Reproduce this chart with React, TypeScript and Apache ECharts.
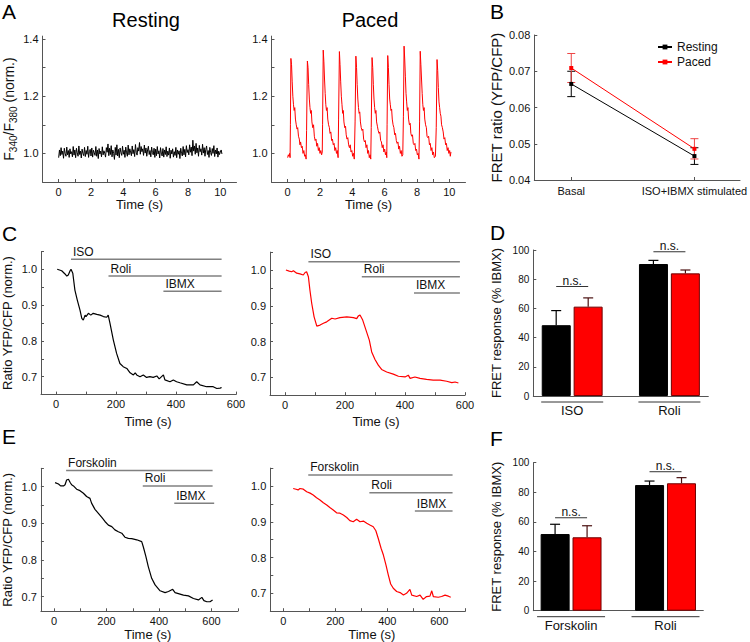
import React, { useEffect, useRef } from 'react';
import * as echarts from 'echarts';

const FONT = '"Liberation Sans", Arial, Helvetica, sans-serif';
const AXIS_COLOR = '#555';
const TEXT_COLOR = '#111';
const RED = '#ff0000';

// ---------- Panel A ----------
const restingStep = 0.05;
const restingValues = [
  0.985, 1.012, 0.992, 1.02, 0.996, 1.008, 0.983, 1.018, 1.0, 0.99, 1.022, 0.995, 1.01, 0.986, 1.016, 0.998, 1.006, 0.988, 1.024, 0.994,
  1.012, 0.985, 1.018, 1.002, 0.99, 1.026, 0.996, 1.008, 0.984, 1.015, 1.0, 0.992, 1.021, 0.989, 1.01, 0.997, 1.025, 0.986, 1.006, 1.014,
  0.991, 1.019, 0.987, 1.011, 1.003, 0.993, 1.024, 0.99, 1.012, 0.982, 1.017, 0.998, 1.008, 0.988, 1.023, 0.995, 1.009, 1.001, 0.987, 1.02,
  1.004, 1.033, 0.992, 1.018, 0.996, 1.027, 0.988, 1.012, 1.0, 0.979, 1.021, 0.994, 1.03, 0.991, 1.014, 0.985, 1.019, 1.003, 0.993, 1.025,
  0.997, 1.011, 0.986, 1.022, 1.002, 0.99, 1.029, 0.995, 1.016, 1.005, 0.992, 1.026, 0.999, 1.013, 0.989, 1.031, 1.004, 0.994, 1.02, 1.008,
  1.038, 0.997, 1.024, 1.006, 1.016, 0.993, 1.029, 1.001, 1.019, 0.99, 1.012, 1.025, 0.996, 1.01, 0.988, 1.022, 1.003, 0.995, 1.018, 0.986,
  1.015, 0.992, 1.024, 0.998, 1.009, 0.984, 1.02, 1.001, 0.991, 1.017, 0.987, 1.012, 0.996, 1.023, 0.989, 1.008, 0.994, 1.019, 0.983, 1.011,
  0.998, 1.016, 0.987, 1.006, 0.993, 1.021, 0.985, 1.012, 0.997, 1.009, 0.982, 1.018, 1.0, 0.991, 1.024, 0.995, 1.014, 0.988, 1.027, 1.003,
  1.013, 0.995, 1.03, 1.004, 1.022, 0.992, 1.046, 1.008, 1.026, 0.997, 1.035, 1.002, 1.019, 0.99, 1.028, 1.006, 1.016, 0.994, 1.032, 1.001,
  1.02, 0.99, 1.014, 1.026, 0.996, 1.01, 0.986, 1.021, 1.003, 0.993, 1.017, 1.0, 1.027, 0.989, 1.012, 0.998, 1.019, 0.987, 1.008, 0.996,
  1.004, 1.012, 0.998,
];
const pacedPoints: [number, number][] = [
  [0.0, 0.985], [0.04, 0.995], [0.08, 0.99], [0.12, 1.0], [0.15, 0.985], [0.17, 1.1], [0.2, 1.332], [0.24, 1.31], [0.28, 1.25], [0.32, 1.2], [0.36, 1.17], [0.4, 1.15], [0.44, 1.16], [0.48, 1.12], [0.53, 1.1], [0.58, 1.085], [0.62, 1.09], [0.67, 1.06], [0.72, 1.05], [0.76, 1.03], [0.8, 1.04], [0.85, 1.02], [0.9, 1.025], [0.95, 1.0], [1.0, 1.01], [1.05, 0.99], [1.1, 0.995], [1.14, 0.98],
  [1.17, 1.08], [1.22, 1.323], [1.26, 1.3], [1.3, 1.24], [1.34, 1.19], [1.38, 1.16], [1.42, 1.14], [1.46, 1.15], [1.5, 1.11], [1.55, 1.09], [1.6, 1.1], [1.65, 1.06], [1.7, 1.045], [1.75, 1.05], [1.8, 1.025], [1.85, 1.035], [1.9, 1.01], [1.95, 1.02], [2.0, 1.0], [2.05, 1.01], [2.1, 0.995], [2.14, 1.005],
  [2.16, 1.1], [2.2, 1.361], [2.24, 1.32], [2.28, 1.26], [2.32, 1.21], [2.36, 1.17], [2.4, 1.15], [2.44, 1.16], [2.48, 1.12], [2.53, 1.1], [2.58, 1.09], [2.62, 1.07], [2.67, 1.075], [2.72, 1.045], [2.77, 1.05], [2.82, 1.03], [2.87, 1.035], [2.92, 1.01], [2.97, 1.02], [3.02, 1.0], [3.07, 1.01], [3.12, 0.985],
  [3.15, 1.12], [3.2, 1.356], [3.24, 1.31], [3.28, 1.25], [3.32, 1.2], [3.36, 1.17], [3.4, 1.14], [3.44, 1.15], [3.48, 1.11], [3.53, 1.09], [3.58, 1.095], [3.62, 1.065], [3.67, 1.05], [3.72, 1.055], [3.77, 1.03], [3.82, 1.02], [3.87, 1.03], [3.92, 1.005], [3.97, 1.01], [4.02, 0.99], [4.07, 1.0], [4.12, 0.98],
  [4.17, 1.11], [4.22, 1.34], [4.26, 1.3], [4.3, 1.24], [4.34, 1.19], [4.38, 1.16], [4.42, 1.14], [4.46, 1.145], [4.5, 1.11], [4.55, 1.09], [4.6, 1.08], [4.65, 1.085], [4.7, 1.05], [4.75, 1.04], [4.8, 1.045], [4.85, 1.02], [4.9, 1.03], [4.95, 1.0], [5.0, 1.01], [5.05, 0.985], [5.1, 0.995], [5.14, 0.98],
  [5.17, 1.09], [5.22, 1.335], [5.26, 1.3], [5.3, 1.24], [5.34, 1.19], [5.38, 1.16], [5.42, 1.14], [5.46, 1.15], [5.5, 1.11], [5.55, 1.095], [5.6, 1.08], [5.65, 1.07], [5.7, 1.075], [5.75, 1.045], [5.8, 1.04], [5.85, 1.02], [5.9, 1.03], [5.95, 1.005], [6.0, 1.015], [6.05, 0.995], [6.1, 1.005], [6.13, 0.985],
  [6.15, 1.1], [6.19, 1.342], [6.23, 1.3], [6.27, 1.24], [6.31, 1.19], [6.35, 1.17], [6.39, 1.15], [6.43, 1.155], [6.47, 1.12], [6.52, 1.1], [6.57, 1.09], [6.62, 1.065], [6.67, 1.07], [6.72, 1.045], [6.77, 1.035], [6.82, 1.04], [6.87, 1.015], [6.92, 1.025], [6.97, 1.0], [7.02, 1.01], [7.07, 0.99], [7.12, 0.995],
  [7.16, 1.13], [7.2, 1.375], [7.24, 1.33], [7.28, 1.27], [7.32, 1.21], [7.36, 1.18], [7.4, 1.15], [7.44, 1.16], [7.48, 1.12], [7.53, 1.1], [7.58, 1.105], [7.62, 1.07], [7.67, 1.06], [7.72, 1.065], [7.77, 1.035], [7.82, 1.03], [7.87, 1.035], [7.92, 1.01], [7.97, 1.015], [8.02, 0.995], [8.07, 1.0], [8.12, 0.98],
  [8.16, 1.11], [8.2, 1.357], [8.24, 1.31], [8.28, 1.26], [8.32, 1.21], [8.36, 1.17], [8.4, 1.15], [8.44, 1.16], [8.48, 1.12], [8.53, 1.1], [8.58, 1.09], [8.62, 1.06], [8.67, 1.055], [8.72, 1.06], [8.77, 1.03], [8.82, 1.035], [8.87, 1.01], [8.92, 1.02], [8.97, 0.995], [9.02, 1.005], [9.07, 0.985], [9.14, 0.99],
  [9.19, 1.09], [9.24, 1.328], [9.28, 1.29], [9.32, 1.23], [9.36, 1.18], [9.4, 1.16], [9.44, 1.14], [9.48, 1.13], [9.52, 1.1], [9.57, 1.09], [9.62, 1.075], [9.67, 1.05], [9.72, 1.055], [9.77, 1.03], [9.82, 1.035], [9.87, 1.01], [9.92, 1.02], [9.97, 1.0], [10.02, 1.01], [10.06, 0.99], [10.1, 1.005],
];
const aTimeTicks = [0, 1, 2, 3, 4, 5, 6, 7, 8, 9, 10];
const aTimeLabels = [0, 2, 4, 6, 8, 10];
const aRatioTicks = [1.0, 1.1, 1.2, 1.3, 1.4];
const aRatioLabels = [1.0, 1.2, 1.4];

// ---------- Panel B ----------
const bCategories = ['Basal', 'ISO+IBMX stimulated'];
const bResting = [0.0665, 0.0466];
const bRestingErr = [0.0035, 0.0023];
const bPaced = [0.0709, 0.0486];
const bPacedErr = [0.004, 0.0028];
const bTicks = [0.04, 0.05, 0.06, 0.07, 0.08];

// ---------- Panel C ----------
const cRestTrace: [number, number][] = [
  [4, 1.0], [19, 0.996], [30, 0.987], [36, 0.981], [41, 0.984], [47, 0.996], [50, 1.0], [56, 0.989], [63, 0.942], [71, 0.914], [80, 0.886], [86, 0.863], [91, 0.858], [97, 0.872], [100, 0.868], [108, 0.877], [116, 0.872], [124, 0.877], [136, 0.874], [147, 0.872], [158, 0.868], [169, 0.866], [174, 0.872], [180, 0.849], [191, 0.803], [202, 0.765], [213, 0.737], [224, 0.728], [236, 0.723], [247, 0.711], [258, 0.705], [264, 0.711], [269, 0.705], [280, 0.7], [291, 0.705], [302, 0.698], [313, 0.7], [324, 0.698], [336, 0.702], [344, 0.694], [358, 0.705], [363, 0.691], [380, 0.686], [391, 0.691], [402, 0.686], [413, 0.683], [436, 0.677], [458, 0.677], [469, 0.686], [480, 0.677], [502, 0.672], [524, 0.672], [536, 0.667], [547, 0.668], [552, 0.67],
];
const cPacedTrace: [number, number][] = [
  [3, 1.0], [14, 0.997], [22, 0.995], [28, 0.998], [39, 0.991], [50, 0.989], [61, 0.986], [67, 0.993], [72, 0.995], [78, 0.981], [83, 0.944], [89, 0.907], [97, 0.869], [106, 0.843], [117, 0.846], [128, 0.851], [139, 0.855], [156, 0.865], [167, 0.863], [183, 0.867], [206, 0.869], [228, 0.867], [239, 0.864], [244, 0.871], [250, 0.874], [259, 0.86], [270, 0.832], [281, 0.804], [289, 0.771], [300, 0.75], [311, 0.734], [322, 0.722], [339, 0.715], [361, 0.709], [378, 0.703], [400, 0.701], [411, 0.706], [417, 0.697], [433, 0.701], [450, 0.697], [472, 0.694], [494, 0.692], [517, 0.692], [539, 0.689], [556, 0.685], [567, 0.687], [578, 0.684],
];
const cTreatments = ['ISO', 'Roli', 'IBMX'];
const cRestStart = [50, 175, 358];
const cRestEnd = [552, 552, 552];
const cRestLevel = [1.028, 0.981, 0.939];
const cPacedStart = [78, 256, 430];
const cPacedEnd = [583, 583, 583];
const cPacedLevel = [1.023, 0.981, 0.936];
const cTimeTicks = [0, 100, 200, 300, 400, 500, 600];
const cTimeLabels = [0, 200, 400, 600];
const ratioTicks = [0.7, 0.75, 0.8, 0.85, 0.9, 0.95, 1.0, 1.05];
const ratioLabels = [0.7, 0.8, 0.9, 1.0];

// ---------- Panel D ----------
const dCategories = ['ISO', 'Roli'];
const dResting = [48.5, 90.4];
const dRestingErr = [10, 2.5];
const dPaced = [61.2, 84];
const dPacedErr = [6, 2.3];
const dNs = [75, 98.8];
const pctTicks = [0, 20, 40, 60, 80, 100];

// ---------- Panel E ----------
const eRestTrace: [number, number][] = [
  [4, 1.011], [17, 1.007], [25, 1.002], [36, 1.002], [42, 1.005], [48, 1.018], [55, 1.02], [61, 1.012], [67, 1.005], [74, 1.002], [86, 0.993], [99, 0.989], [112, 0.982], [124, 0.973], [137, 0.968], [143, 0.955], [156, 0.938], [169, 0.927], [182, 0.916], [194, 0.905], [207, 0.895], [220, 0.891], [232, 0.882], [245, 0.877], [258, 0.873], [270, 0.862], [283, 0.859], [296, 0.858], [315, 0.855], [334, 0.85], [340, 0.836], [350, 0.809], [359, 0.782], [372, 0.75], [385, 0.732], [404, 0.716], [423, 0.711], [436, 0.714], [452, 0.72], [461, 0.711], [480, 0.707], [493, 0.704], [512, 0.702], [531, 0.695], [550, 0.691], [563, 0.698], [571, 0.689], [582, 0.686], [594, 0.686], [604, 0.691],
];
const ePacedTrace: [number, number][] = [
  [38, 0.993], [49, 0.991], [57, 0.989], [64, 0.993], [77, 0.991], [90, 0.984], [103, 0.98], [115, 0.975], [128, 0.967], [141, 0.961], [154, 0.953], [167, 0.947], [179, 0.94], [192, 0.933], [205, 0.925], [218, 0.924], [231, 0.919], [244, 0.912], [256, 0.903], [269, 0.9], [282, 0.907], [295, 0.9], [308, 0.902], [321, 0.896], [333, 0.891], [346, 0.886], [356, 0.875], [365, 0.854], [376, 0.826], [385, 0.807], [395, 0.779], [404, 0.751], [413, 0.726], [423, 0.714], [436, 0.705], [449, 0.702], [462, 0.695], [474, 0.7], [487, 0.711], [494, 0.695], [513, 0.691], [526, 0.695], [538, 0.683], [551, 0.691], [564, 0.692], [571, 0.707], [577, 0.691], [596, 0.689], [609, 0.691], [622, 0.695], [635, 0.692], [644, 0.689],
];
const eTreatments = ['Forskolin', 'Roli', 'IBMX'];
const eRestStart = [46, 338, 458];
const eRestEnd = [604, 604, 610];
const eRestLevel = [1.044, 1.002, 0.955];
const ePacedStart = [96, 331, 506];
const ePacedEnd = [651, 651, 651];
const ePacedLevel = [1.031, 0.981, 0.93];
const eTimeTicks = [0, 100, 200, 300, 400, 500, 600, 700];
const eTimeLabels = [0, 200, 400, 600];

// ---------- Panel F ----------
const fCategories = ['Forskolin', 'Roli'];
const fResting = [51.8, 84.9];
const fRestingErr = [6.6, 2.7];
const fPaced = [49.6, 86.1];
const fPacedErr = [7.8, 3.8];
const fNs = [62.8, 93.9];

// ---------- helpers ----------
function valueAxis(gridIndex: number, min: number, max: number, ticks: number[] | null, labels: number[], fmt: (v: number) => string, extra: any = {}) {
  const { labelSize = 11, tickInside = true, labelMargin = 4, ...rest } = extra;
  return {
    type: 'value',
    gridIndex,
    min,
    max,
    axisLine: { show: true, onZero: false, lineStyle: { color: AXIS_COLOR, width: 1 } },
    axisTick: ticks
      ? { show: true, inside: tickInside, length: 3, customValues: ticks, lineStyle: { color: AXIS_COLOR, width: 1 } }
      : { show: false },
    axisLabel: { show: true, customValues: labels, formatter: fmt, fontSize: labelSize, color: TEXT_COLOR, fontFamily: FONT, margin: labelMargin },
    splitLine: { show: false },
    minorTick: { show: false },
    ...rest,
  };
}

function xName(gap: number, padLeft: number) {
  return {
    name: 'Time (s)',
    nameLocation: 'middle',
    nameGap: gap,
    nameTextStyle: { fontSize: 13, color: TEXT_COLOR, fontFamily: FONT, padding: [0, 0, 0, padLeft] },
  };
}

function yName(name: string, gap: number, size = 13) {
  return {
    name,
    nameLocation: 'middle',
    nameGap: gap,
    nameTextStyle: { fontSize: size, color: TEXT_COLOR, fontFamily: FONT },
  };
}

function trace(gi: number, data: [number, number][], color: string, width = 1.2) {
  return {
    type: 'line',
    xAxisIndex: gi,
    yAxisIndex: gi,
    data,
    showSymbol: false,
    symbol: 'none',
    silent: true,
    lineStyle: { color, width },
    itemStyle: { color },
    z: 4,
  };
}

function treatments(gi: number, names: string[], starts: number[], ends: number[], levels: number[]) {
  return {
    type: 'custom',
    xAxisIndex: gi,
    yAxisIndex: gi,
    silent: true,
    z: 5,
    encode: { x: [0, 1], y: 2 },
    data: names.map((_, i) => [starts[i], ends[i], levels[i]]),
    renderItem: (params: any, api: any) => {
      const a = api.coord([api.value(0), api.value(2)]);
      const b = api.coord([api.value(1), api.value(2)]);
      return {
        type: 'group',
        children: [
          { type: 'line', shape: { x1: a[0], y1: a[1], x2: b[0], y2: b[1] }, style: { stroke: '#808080', lineWidth: 1.5 } },
          {
            type: 'text',
            x: a[0] + 2,
            y: a[1] - 7.5,
            style: { text: names[params.dataIndex], fill: TEXT_COLOR, font: `12px ${FONT}`, align: 'left', verticalAlign: 'middle' },
          },
        ],
      };
    },
  };
}

function bars(gi: number, name: string, values: number[], color: string, border: string) {
  return {
    type: 'bar',
    name,
    xAxisIndex: gi,
    yAxisIndex: gi,
    data: values.map((v, i) => [i, v]),
    barWidth: 29,
    barGap: '10%',
    silent: true,
    itemStyle: { color, borderColor: border, borderWidth: 1 },
    z: 2,
  };
}

function barErrors(gi: number, values: number[], errs: number[], offset: number, color: string) {
  return {
    type: 'custom',
    xAxisIndex: gi,
    yAxisIndex: gi,
    silent: true,
    z: 3,
    encode: { x: 0, y: 1 },
    data: values.map((v, i) => [i, v, errs[i]]),
    renderItem: (params: any, api: any) => {
      const base = api.coord([api.value(0), api.value(1)]);
      const top = api.coord([api.value(0), api.value(1) + api.value(2)]);
      const x = base[0] + offset;
      return {
        type: 'group',
        children: [
          { type: 'line', shape: { x1: x, y1: base[1], x2: x, y2: top[1] }, style: { stroke: color, lineWidth: 1.2 } },
          { type: 'line', shape: { x1: x - 5, y1: top[1], x2: x + 5, y2: top[1] }, style: { stroke: color, lineWidth: 1.2 } },
        ],
      };
    },
  };
}

function nsMarks(gi: number, levels: number[]) {
  return {
    type: 'custom',
    xAxisIndex: gi,
    yAxisIndex: gi,
    silent: true,
    z: 3,
    encode: { x: 0, y: 1 },
    data: levels.map((l, i) => [i, l]),
    renderItem: (params: any, api: any) => {
      const c = api.coord([api.value(0), api.value(1)]);
      return {
        type: 'group',
        children: [
          { type: 'line', shape: { x1: c[0] - 16, y1: c[1], x2: c[0] + 16, y2: c[1] }, style: { stroke: '#333', lineWidth: 1 } },
          { type: 'text', x: c[0], y: c[1] - 6, style: { text: 'n.s.', fill: TEXT_COLOR, font: `12px ${FONT}`, align: 'center', verticalAlign: 'middle' } },
        ],
      };
    },
  };
}

function underlines(gi: number, cats: string[], halfWidth: number) {
  return {
    type: 'custom',
    xAxisIndex: gi,
    yAxisIndex: gi,
    silent: true,
    z: 3,
    encode: { x: 0, y: 1 },
    data: cats.map((_, i) => [i, 0]),
    renderItem: (params: any, api: any) => {
      const c = api.coord([api.value(0), 0]);
      return {
        type: 'line',
        shape: { x1: c[0] - halfWidth, y1: c[1] + 6, x2: c[0] + halfWidth, y2: c[1] + 6 },
        style: { stroke: '#333', lineWidth: 1 },
      };
    },
  };
}

function pointErrors(gi: number, values: number[], errs: number[], color: string) {
  return {
    type: 'custom',
    xAxisIndex: gi,
    yAxisIndex: gi,
    silent: true,
    z: 3,
    encode: { x: 0, y: 1 },
    data: values.map((v, i) => [i, v, errs[i]]),
    renderItem: (params: any, api: any) => {
      const lo = api.coord([api.value(0), api.value(1) - api.value(2)]);
      const hi = api.coord([api.value(0), api.value(1) + api.value(2)]);
      const x = lo[0];
      return {
        type: 'group',
        children: [
          { type: 'line', shape: { x1: x, y1: lo[1], x2: x, y2: hi[1] }, style: { stroke: color, lineWidth: 1 } },
          { type: 'line', shape: { x1: x - 4, y1: lo[1], x2: x + 4, y2: lo[1] }, style: { stroke: color, lineWidth: 1 } },
          { type: 'line', shape: { x1: x - 4, y1: hi[1], x2: x + 4, y2: hi[1] }, style: { stroke: color, lineWidth: 1 } },
        ],
      };
    },
  };
}

const f1 = (v: number) => v.toFixed(1);
const f2 = (v: number) => v.toFixed(2);
const f0 = (v: number) => String(Math.round(v));

function letter(text: string, x: number, y: number) {
  return {
    type: 'text',
    x,
    y,
    silent: true,
    style: { text, fill: '#000', font: `21px ${FONT}`, align: 'left', verticalAlign: 'middle' },
  };
}

function buildOption() {
  const grid = [
    { left: 42.5, top: 36.1, width: 194, height: 145.9 },
    { left: 271.5, top: 36.1, width: 194, height: 145.9 },
    { left: 534.3, top: 35, width: 205.7, height: 145 },
    { left: 41, top: 251.4, width: 195, height: 143.2 },
    { left: 270, top: 252.1, width: 195, height: 143.1 },
    { left: 533.3, top: 250, width: 175, height: 146 },
    { left: 40.9, top: 468.3, width: 196.9, height: 143 },
    { left: 270.3, top: 468.1, width: 195, height: 143.1 },
    { left: 533.3, top: 462.7, width: 170, height: 148 },
  ].map((g) => ({ ...g, containLabel: false, outerBoundsMode: 'none', show: false }));

  const xAxis = [
    valueAxis(0, -1, 11, aTimeTicks, aTimeLabels, f0, xName(14, 0)),
    valueAxis(1, -1, 11, aTimeTicks, aTimeLabels, f0, xName(14, 0)),
    valueAxis(2, -0.3, 1.37, [0, 1], [0, 1], (v: number) => bCategories[Math.round(v)], { labelMargin: 5 }),
    valueAxis(3, -50, 600, cTimeTicks, cTimeLabels, f0, xName(20, 19)),
    valueAxis(4, -50, 600, cTimeTicks, cTimeLabels, f0, xName(20, 17)),
    valueAxis(5, -0.4, 1.4, null, [0, 1], (v: number) => dCategories[Math.round(v)], { labelSize: 13, labelMargin: 8 }),
    valueAxis(6, -50, 700, eTimeTicks, eTimeLabels, f0, xName(16.5, 17)),
    valueAxis(7, -50, 700, eTimeTicks, eTimeLabels, f0, xName(16.5, 8)),
    valueAxis(8, -0.4, 1.4, null, [0, 1], (v: number) => fCategories[Math.round(v)], { labelSize: 13, labelMargin: 8.5 }),
  ];

  const aName = {
    name: '{m|F}{s|340}{m|/F}{s|380}{m| (norm.)}',
    nameLocation: 'middle',
    nameGap: 24,
    nameTextStyle: {
      color: TEXT_COLOR,
      fontFamily: FONT,
      fontSize: 14,
      rich: {
        m: { fontSize: 14, lineHeight: 20, fontFamily: FONT, color: TEXT_COLOR },
        s: { fontSize: 10, lineHeight: 10, verticalAlign: 'bottom', fontFamily: FONT, color: TEXT_COLOR },
      },
    },
  };

  const yAxis = [
    valueAxis(0, 0.9, 1.41, aRatioTicks, aRatioLabels, f1, aName),
    valueAxis(1, 0.9, 1.41, aRatioTicks, aRatioLabels, f1),
    valueAxis(2, 0.04, 0.08, bTicks, bTicks, f2, yName('FRET ratio (YFP/CFP)', 30, 15)),
    valueAxis(3, 0.65, 1.05, ratioTicks, ratioLabels, f1, yName('Ratio YFP/CFP (norm.)', 27)),
    valueAxis(4, 0.65, 1.05, ratioTicks, ratioLabels, f1),
    valueAxis(5, 0, 100, pctTicks, pctTicks, f0, { labelSize: 10, ...yName('FRET response (% IBMX)', 30) }),
    valueAxis(6, 0.66, 1.05, ratioTicks, ratioLabels, f1, yName('Ratio YFP/CFP (norm.)', 27)),
    valueAxis(7, 0.65, 1.05, ratioTicks, ratioLabels, f1),
    valueAxis(8, 0, 100, pctTicks, pctTicks, f0, { labelSize: 10, ...yName('FRET response (% IBMX)', 30) }),
  ];

  const series: any[] = [
    // A
    trace(0, restingValues.map((v, i) => [i * restingStep, v] as [number, number]), '#000', 1),
    trace(1, pacedPoints, RED, 1),
    // B
    {
      type: 'line',
      name: 'Resting',
      xAxisIndex: 2,
      yAxisIndex: 2,
      data: bResting.map((v, i) => [i, v]),
      symbol: 'rect',
      symbolSize: 4,
      showSymbol: true,
      silent: true,
      lineStyle: { color: '#000', width: 1 },
      itemStyle: { color: '#000' },
      z: 4,
    },
    {
      type: 'line',
      name: 'Paced',
      xAxisIndex: 2,
      yAxisIndex: 2,
      data: bPaced.map((v, i) => [i, v]),
      symbol: 'rect',
      symbolSize: 4,
      showSymbol: true,
      silent: true,
      lineStyle: { color: RED, width: 1 },
      itemStyle: { color: RED },
      z: 4,
    },
    pointErrors(2, bResting, bRestingErr, '#000'),
    pointErrors(2, bPaced, bPacedErr, '#ee4444'),
    // C
    trace(3, cRestTrace, '#000'),
    treatments(3, cTreatments, cRestStart, cRestEnd, cRestLevel),
    trace(4, cPacedTrace, RED),
    treatments(4, cTreatments, cPacedStart, cPacedEnd, cPacedLevel),
    // D
    bars(5, 'D resting', dResting, '#000', '#000'),
    bars(5, 'D paced', dPaced, RED, '#700000'),
    barErrors(5, dResting, dRestingErr, -16, '#000'),
    barErrors(5, dPaced, dPacedErr, 16, '#4a1010'),
    nsMarks(5, dNs),
    underlines(5, dCategories, 31),
    // E
    trace(6, eRestTrace, '#000'),
    treatments(6, eTreatments, eRestStart, eRestEnd, eRestLevel),
    trace(7, ePacedTrace, RED),
    treatments(7, eTreatments, ePacedStart, ePacedEnd, ePacedLevel),
    // F
    bars(8, 'F resting', fResting, '#000', '#000'),
    bars(8, 'F paced', fPaced, RED, '#700000'),
    barErrors(8, fResting, fRestingErr, -16, '#000'),
    barErrors(8, fPaced, fPacedErr, 16, '#4a1010'),
    nsMarks(8, fNs),
    underlines(8, fCategories, 34),
  ];

  return {
    animation: false,
    backgroundColor: '#fff',
    textStyle: { fontFamily: FONT },
    grid,
    xAxis,
    yAxis,
    legend: {
      data: ['Resting', 'Paced'],
      left: 657,
      top: 40,
      orient: 'vertical',
      padding: 0,
      itemGap: 1,
      itemWidth: 14,
      itemHeight: 6,
      selectedMode: false,
      textStyle: { fontSize: 12, lineHeight: 14, fontFamily: FONT, color: TEXT_COLOR },
    },
    graphic: [
      letter('A', 2, 11),
      letter('B', 490, 11),
      letter('C', 2, 233),
      letter('D', 490, 232.5),
      letter('E', 2, 436),
      letter('F', 490, 438),
      {
        type: 'text',
        x: 146,
        y: 20,
        silent: true,
        style: { text: 'Resting', fill: '#000', font: `20px ${FONT}`, align: 'center', verticalAlign: 'middle' },
      },
      {
        type: 'text',
        x: 370,
        y: 20,
        silent: true,
        style: { text: 'Paced', fill: '#000', font: `20px ${FONT}`, align: 'center', verticalAlign: 'middle' },
      },
    ],
    series,
  };
}

export default function App() {
  const ref = useRef<HTMLDivElement>(null);
  useEffect(() => {
    document.body.style.margin = '0';
    if (!ref.current) return;
    const chart = echarts.init(ref.current, undefined, { renderer: 'svg' });
    chart.setOption(buildOption() as any);
    return () => chart.dispose();
  }, []);
  return <div ref={ref} style={{ width: 750, height: 642 }} />;
}
